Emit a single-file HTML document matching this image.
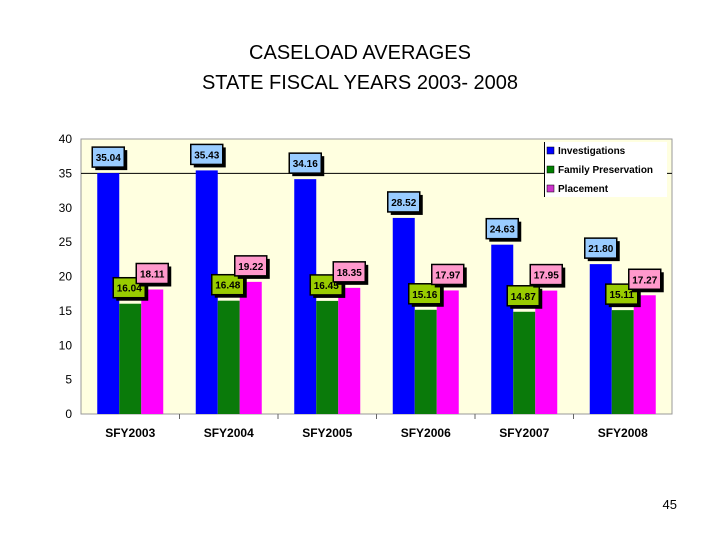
<!DOCTYPE html>
<html><head><meta charset="utf-8"><style>
body{margin:0;background:#fff;width:720px;height:540px;overflow:hidden;font-family:"Liberation Sans",sans-serif}
</style></head><body>
<svg width="720" height="540">
<text x="360" y="59" text-anchor="middle" font-size="20">CASELOAD AVERAGES</text>
<text x="360" y="89" text-anchor="middle" font-size="20">STATE FISCAL YEARS 2003- 2008</text>
<rect x="81" y="139" width="591" height="275" fill="#FFFFE0" stroke="#999"/>
<g id="axes"></g><g id="bars"></g><g id="labels"></g>
<g>
<rect x="544" y="142" width="123" height="55" fill="#fff"/>
<line x1="544.5" y1="142" x2="544.5" y2="197" stroke="#000"/>
<rect x="547" y="147" width="7" height="7" fill="#0000FF" stroke="#000" stroke-width=".5"/>
<text x="558" y="154" font-size="10" font-weight="bold">Investigations</text>
<rect x="547" y="166" width="7" height="7" fill="#008000" stroke="#000" stroke-width=".5"/>
<text x="558" y="173" font-size="10" font-weight="bold">Family Preservation</text>
<rect x="547" y="185" width="7" height="7" fill="#CC33CC" stroke="#000" stroke-width=".5"/>
<text x="558" y="192" font-size="10" font-weight="bold">Placement</text>
</g>
<text x="677" y="509" text-anchor="end" font-size="13">45</text>
</svg>
<script>
const categories=["SFY2003","SFY2004","SFY2005","SFY2006","SFY2007","SFY2008"];
const investigations=[35.04,35.43,34.16,28.52,24.63,21.80];
const familyPreservation=[16.04,16.48,16.45,15.16,14.87,15.11];
const placement=[18.11,19.22,18.35,17.97,17.95,17.27];
const yTicks=[0,5,10,15,20,25,30,35,40];
const NS="http://www.w3.org/2000/svg";
const L=81,R=672,T=139,B=414,YMAX=40;
const y=v=>B-(v/YMAX)*(B-T);
const gw=(R-L)/categories.length;
function mk(tag,a,parent,txt){const e=document.createElementNS(NS,tag);for(const k in a)e.setAttribute(k,a[k]);if(txt!=null)e.textContent=txt;document.getElementById(parent).appendChild(e);return e;}
let g=mk("line",{x1:L,x2:R,y1:y(35),y2:y(35),stroke:"#000"},"axes");


yTicks.forEach(t=>{const e=mk("text",{x:72,y:y(t)+4,"text-anchor":"end","font-size":12},"axes",String(t));

});
categories.forEach((c,i)=>{const e=mk("text",{x:L+gw*(i+0.5),y:437,"text-anchor":"middle","font-size":12,"font-weight":"bold"},"axes",c);


if(i>0){const tk=mk("line",{x1:L+gw*i,x2:L+gw*i,y1:B,y2:B+5,stroke:"#666"},"axes");

}});
const series=[[investigations,"#0000FF","#99CCFF","investigations"],[familyPreservation,"#0A7A0A","#99CC00","family-preservation"],[placement,"#FF00FF","#FF99CC","placement"]];
const bw=22;
series.forEach((s,si)=>{s[0].forEach((v,i)=>{
const x0=L+gw*(i+0.5)-33+si*bw;
const b=mk("rect",{x:x0,y:y(v),width:bw,height:B-y(v),fill:s[1]},"bars");


const cx=x0+bw/2-(si==1?1:0),by=y(v)-6,h=20,w=32;
const sh=mk("rect",{x:cx-w/2+3,y:by-h+3,width:w,height:h,fill:"#000"},"labels");


const bx=mk("rect",{x:cx-w/2,y:by-h,width:w,height:h,fill:s[2],stroke:"#000","stroke-width":1.5},"labels");


const t=mk("text",{x:cx,y:by-6,"text-anchor":"middle","font-size":10,"font-weight":"bold"},"labels",v.toFixed(2));


});});
</script>
</body></html>
